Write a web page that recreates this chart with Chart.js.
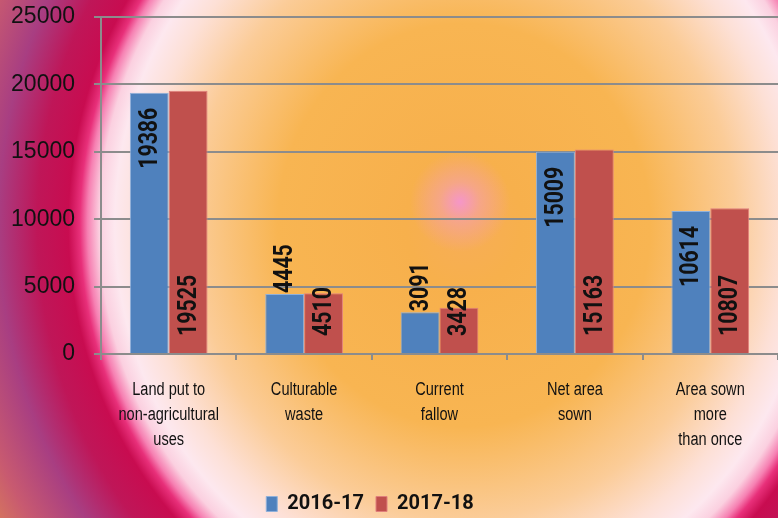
<!DOCTYPE html>
<html>

<head>
  <title>Land use</title>
  <script src="https://cdn.jsdelivr.net/npm/chart.js"></script>
  <style>
    html, body { margin: 0; padding: 0; }
    #wrap {
      width: 778px;
      height: 518px;
      background:
        radial-gradient(circle 50px at 460px 202px, rgba(245, 150, 200, 1) 0%, rgba(245, 160, 170, 0.6) 40%, rgba(247, 176, 76, 0) 100%),
        radial-gradient(ellipse 388px 420px at 464px 225px,
        #f7ad58 0%, #f7b04c 15%, #f8b552 48%, #fbcc98 70%,
        #fde0d6 83%, #fde8ef 90%, #fbd0e0 94%, #f680b2 97%, #e8307a 99%,
        #c80c50 102%, #bf1658 110%, #a83e82 120%, #c85a70 132%, #e08a50 145%);
    }
  </style>
</head>

<body>
  <div id="wrap"><canvas id="myChart" width="778" height="518"></canvas></div>
  <script>
    var categories = [
      ['Land put to', 'non-agricultural', 'uses'],
      ['Culturable', 'waste'],
      ['Current', 'fallow'],
      ['Net area', 'sown'],
      ['Area sown', 'more', 'than once']
    ];
    var values2016 = [19386, 4445, 3091, 15009, 10614];
    var values2017 = [19525, 4510, 3428, 15163, 10807];
    var yTicks = [0, 5000, 10000, 15000, 20000, 25000];

    // no narrow font installed, so squeeze text along its own direction
    function squeezedText(ctx, txt, x, y, sx) {
      ctx.save();
      ctx.translate(x, y);
      ctx.scale(sx, 1);
      ctx.fillText(txt, 0, 0);
      ctx.restore();
    }

    // labels written up the bars, like the spreadsheet original
    var barLabels = {
      id: 'barLabels',
      afterDatasetsDraw: function (chart) {
        var ctx = chart.ctx;
        var sx = 0.82;
        ctx.save();
        ctx.font = 'bold 26px Roboto, sans-serif';
        ctx.fillStyle = '#111';
        ctx.textBaseline = 'middle';
        chart.data.datasets.forEach(function (ds, i) {
          chart.getDatasetMeta(i).data.forEach(function (bar, j) {
            var txt = String(ds.data[j]);
            var w = ctx.measureText(txt).width * sx;
            var h = bar.base - bar.y;
            ctx.save();
            if (i === 0) {
              if (w + 32 <= h) {
                ctx.translate(bar.x, bar.y + 15);
                ctx.textAlign = 'right';
              } else {
                ctx.translate(bar.x, bar.y - 1);
                ctx.textAlign = 'left';
              }
            } else {
              ctx.translate(bar.x, bar.base - 17);
              ctx.textAlign = 'left';
            }
            ctx.rotate(-Math.PI / 2);
            squeezedText(ctx, txt, 0, 1, sx);
            ctx.restore();
          });
        });
        ctx.restore();
      }
    };

    // category names under the axis, placed from the x scale
    var xLabels = {
      id: 'xLabels',
      afterDraw: function (chart) {
        var ctx = chart.ctx;
        var xs = chart.scales.x;
        ctx.save();
        ctx.font = '18px "Liberation Sans", sans-serif';
        ctx.fillStyle = '#111';
        ctx.textAlign = 'center';
        ctx.textBaseline = 'middle';
        chart.data.labels.forEach(function (lines, i) {
          var x = xs.getPixelForTick(i);
          lines.forEach(function (line, k) {
            squeezedText(ctx, line, x, xs.top + 36 + k * 25, 0.81);
          });
        });
        ctx.restore();
      },
      afterLayout: function (chart) {
        // legend sits a little left of centre and low in the original
        var lg = chart.legend;
        lg.left -= 19; lg.right -= 19;
        lg.top += 6; lg.bottom += 6;
      }
    };

    var ctx = document.getElementById('myChart').getContext('2d');
    var myChart = new Chart(ctx, {
      type: 'bar',
      data: {
        labels: categories,
        datasets: [{
          label: '2016-17',
          data: values2016,
          backgroundColor: '#4f81bd',
          borderColor: '#8fb0da',
          borderWidth: 1
        }, {
          label: '2017-18',
          data: values2017,
          backgroundColor: '#c0504d',
          borderColor: '#e07f7c',
          borderWidth: 1
        }]
      },
      options: {
        responsive: false,
        animation: false,
        layout: { padding: { top: 17, right: 0, left: 0, bottom: 0 } },
        datasets: {
          bar: { barPercentage: 1, categoryPercentage: 0.574 }
        },
        plugins: {
          legend: {
            position: 'bottom',
            labels: {
              boxWidth: 11,
              boxHeight: 15,
              padding: 12,
              color: '#111',
              font: { family: 'Roboto, sans-serif', size: 20, weight: 'bold' }
            }
          },
          tooltip: { enabled: false }
        },
        scales: {
          x: {
            grid: {
              drawOnChartArea: false,
              drawTicks: true,
              tickLength: 6,
              color: '#8c8c8c',
              lineWidth: 2
            },
            border: { color: '#8c8c8c', width: 2 },
            ticks: { display: false },
            afterFit: function (scale) { scale.height = 122; }
          },
          y: {
            min: 0,
            max: 25000,
            afterBuildTicks: function (scale) {
              scale.ticks = yTicks.map(function (v) { return { value: v }; });
            },
            grid: {
              color: '#8c8c8c',
              lineWidth: 2,
              tickLength: 7
            },
            border: { color: '#8c8c8c', width: 2 },
            ticks: {
              color: '#111',
              padding: 19,
              font: { family: "'Liberation Sans', sans-serif", size: 23 },
              callback: function (v) { return String(v); }
            },
            afterFit: function (scale) {
              scale.width = 101;
              scale.paddingTop = 0;
              scale.paddingBottom = 0;
            }
          }
        }
      },
      plugins: [barLabels, xLabels]
    });
  </script>
</body>

</html>
